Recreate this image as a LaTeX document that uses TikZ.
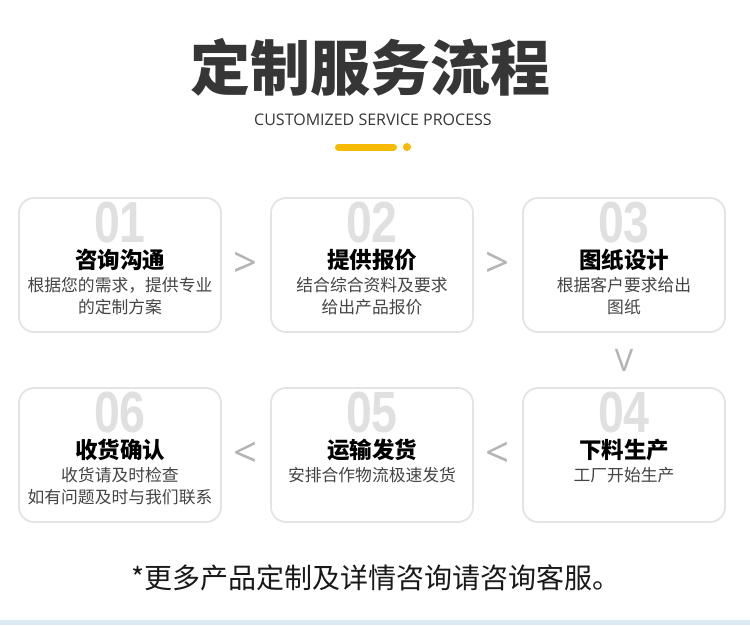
\documentclass[tikz,border=0pt]{standalone}
\usepackage{fontspec}
\newfontfamily\cjk{Noto Sans CJK SC}
\newfontfamily\latin{Open Sans}
\newfontfamily\digitfont{Liberation Sans}
\usetikzlibrary{positioning}
\definecolor{titlegray}{HTML}{363636}
\definecolor{bodygray}{HTML}{444444}
\definecolor{cardline}{HTML}{E4E4E4}
\definecolor{numgray}{HTML}{E0E0E0}
\definecolor{chevgray}{HTML}{B4B4B4}
\definecolor{baryellow}{HTML}{F6BA00}
\definecolor{stripblue}{HTML}{DCEAF4}

\begin{document}
\begin{tikzpicture}[x=1pt,y=-1pt,
  card/.style={draw=cardline, line width=1.8pt, fill=white, rounded corners=15pt,
    minimum width=202pt, minimum height=134pt},
  num/.style={text=numgray, anchor=north, inner sep=0pt, xscale=0.8,
    font=\digitfont\bfseries\fontsize{58}{58}\selectfont},
  head/.style={text=black, inner sep=1pt, font=\cjk\bfseries\fontsize{22.5}{22.5}\selectfont},
  body/.style={text=bodygray, anchor=north, align=center, inner sep=0pt,
    font=\cjk\fontsize{16.8}{22.5}\selectfont},
  chev/.style={text=chevgray, font=\latin\fontsize{42}{42}\selectfont}]
  \useasboundingbox (0,0) rectangle (750,625);
  \fill[white] (0,0) rectangle (750,625);
  \fill[stripblue] (0,620) rectangle (750,625);

  % heading
  \node[text=titlegray, font=\cjk\bfseries\fontsize{60}{60}\selectfont] (title) at (370,67) {定制服务流程};
  \node[text=titlegray, font=\latin\fontsize{16}{16}\selectfont] (subtitle) at (373,120) {CUSTOMIZED SERVICE PROCESS};
  \draw[baryellow, line width=7pt, line cap=round] (338.5,147) -- (393.5,147);
  \fill[baryellow] (407,147) circle (4);

  % cards
  \foreach \i/\cx/\cy/\hd/\bd in {1/120/265/咨询沟通/{根据您的需求，提供专业\\的定制方案},
      2/372/265/提供报价/{结合综合资料及要求\\给出产品报价},
      3/624/265/图纸设计/{根据客户要求给出\\图纸},
      4/624/455/下料生产/{工厂开始生产},
      5/372/455/运输发货/{安排合作物流极速发货},
      6/120/455/收货确认/{收货请及时检查\\如有问题及时与我们联系}}
    {\node[card] (card\i) at (\cx,\cy) {};
     \node[num] (num\i) at (\cx,\cy-63) {0\i};
     \node[head] (head\i) at (\cx,\cy-5) {\hd};
     \node[body] (body\i) at (\cx,\cy+12) {\bd};}

  \path (card1) -- node[chev] (gt12) {>} (card2);
  \path (card2) -- node[chev] (gt23) {>} (card3);
  \path (card3) -- node[chev, font=\latin\fontsize{31}{31}\selectfont] (dn34) {V} (card4);
  \path (card4) -- node[chev] (lt45) {<} (card5);
  \path (card5) -- node[chev] (lt56) {<} (card6);

  \node[text=black!90, font=\cjk\fontsize{28}{28}\selectfont] (note) at (376,578) {*更多产品定制及详情咨询请咨询客服。};
\end{tikzpicture}
\end{document}
